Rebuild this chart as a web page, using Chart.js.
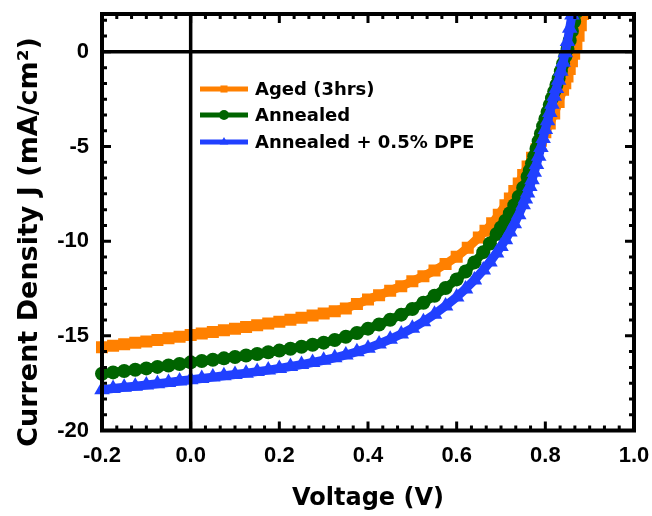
<!DOCTYPE html>
<html>
<head>
<meta charset="utf-8">
<script src="https://cdn.jsdelivr.net/npm/chart.js@4.4.0/dist/chart.umd.min.js"></script>
<style>
    html, body { margin: 0; padding: 0; background: #fff; }
</style>
</head>
<body>
<canvas id="myChart" width="652" height="516"></canvas>
<script>
// 데이터
const seriesNames = ['Aged (3hrs)', 'Annealed', 'Annealed + 0.5% DPE'];

const agedV = [-0.2, -0.175, -0.15, -0.125, -0.1, -0.075, -0.05, -0.025, 0, 0.025, 0.05, 0.075, 0.1, 0.125, 0.15, 0.175,
    0.2, 0.225, 0.25, 0.275, 0.3, 0.325, 0.35, 0.375, 0.4, 0.425, 0.45, 0.475, 0.5, 0.525, 0.55, 0.575, 0.6,
    0.625, 0.65, 0.665, 0.68, 0.695, 0.71, 0.72, 0.73, 0.74, 0.75, 0.76, 0.77, 0.78, 0.79, 0.8, 0.81, 0.82, 0.83,
    0.84, 0.845, 0.85, 0.855, 0.86, 0.865, 0.87, 0.875, 0.88, 0.885];
const agedJ = [-15.60, -15.52, -15.45, -15.37, -15.30, -15.22, -15.13, -15.05, -14.96, -14.88, -14.80, -14.71, -14.62,
    -14.53, -14.44, -14.35, -14.25, -14.15, -14.04, -13.93, -13.82, -13.70, -13.55, -13.32, -13.08, -12.85, -12.62,
    -12.38, -12.12, -11.85, -11.55, -11.20, -10.82,
    -10.35, -9.80, -9.45, -9.05, -8.60, -8.10, -7.75, -7.35, -6.95, -6.50, -6.05, -5.60, -5.15, -4.70, -4.25, -3.78,
    -3.25, -2.65, -2.00, -1.66, -1.30, -0.91, -0.50, -0.10, 0.30, 0.85, 1.40, 2.00];

const annealedV = [-0.2, -0.175, -0.15, -0.125, -0.1, -0.075, -0.05, -0.025, 0, 0.025, 0.05, 0.075, 0.1, 0.125, 0.15, 0.175,
    0.2, 0.225, 0.25, 0.275, 0.3, 0.325, 0.35, 0.375, 0.4, 0.425, 0.45, 0.475, 0.5, 0.525, 0.55, 0.575, 0.6,
    0.62, 0.64, 0.66, 0.675, 0.69, 0.7, 0.71, 0.72, 0.73, 0.74, 0.75, 0.76, 0.765, 0.77, 0.775, 0.78, 0.785, 0.79,
    0.795, 0.8, 0.805, 0.81, 0.815, 0.82, 0.825, 0.83, 0.835, 0.84, 0.845, 0.85, 0.855, 0.86, 0.865, 0.87];
const annealedJ = [-17.00, -16.93, -16.86, -16.79, -16.72, -16.64, -16.57, -16.49, -16.40, -16.33, -16.26, -16.19, -16.12,
    -16.04, -15.96, -15.87, -15.78, -15.68, -15.58, -15.47, -15.36, -15.22, -15.05, -14.85, -14.62, -14.40, -14.15,
    -13.88, -13.58, -13.25, -12.88, -12.47, -12.02,
    -11.60, -11.12, -10.58, -10.12, -9.62, -9.28, -8.92, -8.52, -8.10, -7.65, -7.18, -6.60, -6.27, -5.90, -5.52, -5.12,
    -4.72, -4.32, -3.93, -3.55, -3.17, -2.80, -2.45, -2.10, -1.75, -1.40, -1.02, -0.62, -0.24, 0.15, 0.60, 1.10, 1.60, 2.10];

const dpeV = [-0.2, -0.175, -0.15, -0.125, -0.1, -0.075, -0.05, -0.025, 0, 0.025, 0.05, 0.075, 0.1, 0.125, 0.15, 0.175,
    0.2, 0.225, 0.25, 0.275, 0.3, 0.325, 0.35, 0.375, 0.4, 0.425, 0.45, 0.475, 0.5, 0.525, 0.55, 0.575, 0.6,
    0.62, 0.64, 0.66, 0.675, 0.69, 0.7, 0.71, 0.72, 0.73, 0.74, 0.75, 0.755, 0.76, 0.765, 0.77, 0.775, 0.78, 0.785,
    0.79, 0.795, 0.8, 0.805, 0.81, 0.815, 0.82, 0.825, 0.83, 0.835, 0.84, 0.845, 0.85, 0.855, 0.86];
const dpeJ = [-17.85, -17.78, -17.72, -17.66, -17.60, -17.53, -17.46, -17.39, -17.32, -17.25, -17.18, -17.11, -17.04,
    -16.97, -16.89, -16.81, -16.72, -16.62, -16.52, -16.41, -16.29, -16.16, -16.01, -15.84, -15.65, -15.43, -15.18,
    -14.90, -14.60, -14.25, -13.86, -13.42, -12.95,
    -12.52, -12.05, -11.52, -11.10, -10.62, -10.28, -9.92, -9.52, -9.08, -8.60, -8.07, -7.77, -7.45, -7.11, -6.75,
    -6.36, -5.95, -5.51, -5.05, -4.58, -4.10, -3.64, -3.20, -2.77, -2.35, -1.93, -1.50, -1.03, -0.55, -0.05, 0.55,
    1.25, 1.95];

// 눈금 라벨
const xTicks = [-0.2, 0.0, 0.2, 0.4, 0.6, 0.8, 1.0];
const yTicks = [-20, -15, -10, -5, 0];

const colors = ['#FF8000', '#006400', '#2040FF'];
const styles = ['rect', 'circle', 'triangle'];
const radii = [8.5, 7, 9];

function pts(xs, ys) {
    return xs.map((v, i) => ({ x: v, y: ys[i] }));
}

const tickFont = { family: "'Liberation Sans', Arial, sans-serif", size: 22, weight: 'bold' };
const xTitleFont = "bold 24px 'DejaVu Sans', sans-serif";
const yTitleFont = "bold 27px 'DejaVu Sans', sans-serif";
const legendFont = "bold 18px 'DejaVu Sans', sans-serif";

function noPad(s) {
    s.paddingTop = 0; s.paddingBottom = 0; s.paddingLeft = 0; s.paddingRight = 0;
}

// 테두리, 눈금, 0선, 범례, 축 제목
const framePlugin = {
    id: 'frame',
    afterDatasetsDraw(chart) {
        const ctx = chart.ctx;
        const a = chart.chartArea;
        const xs = chart.scales.x, ys = chart.scales.y;
        ctx.save();
        ctx.strokeStyle = '#000';

        // 0 lines
        ctx.lineWidth = 3.5;
        ctx.beginPath();
        ctx.moveTo(a.left, ys.getPixelForValue(0));
        ctx.lineTo(a.right, ys.getPixelForValue(0));
        ctx.moveTo(xs.getPixelForValue(0), a.top);
        ctx.lineTo(xs.getPixelForValue(0), a.bottom);
        ctx.stroke();

        // ticks (inward, all sides)
        ctx.lineWidth = 3;
        ctx.beginPath();
        for (let k = 0; k <= 36; k++) {
            const v = -0.2 + k * 0.2 / 6;
            const px = xs.getPixelForValue(v);
            const len = (k % 6 === 0) ? 9 : 5;
            ctx.moveTo(px, a.bottom); ctx.lineTo(px, a.bottom - len);
            ctx.moveTo(px, a.top); ctx.lineTo(px, a.top + len);
        }
        for (let k = 0; k <= 26; k++) {
            const v = -20 + k * 5 / 6;
            if (v > 2) break;
            const py = ys.getPixelForValue(v);
            const len = (k % 6 === 0) ? 9 : 5;
            ctx.moveTo(a.left, py); ctx.lineTo(a.left + len, py);
            ctx.moveTo(a.right, py); ctx.lineTo(a.right - len, py);
        }
        ctx.stroke();

        // frame
        ctx.lineWidth = 4;
        ctx.strokeRect(a.left, a.top, a.right - a.left, a.bottom - a.top);

        // legend
        const rows = [89, 115, 142];
        ctx.font = legendFont;
        ctx.textBaseline = 'middle';
        ctx.textAlign = 'left';
        seriesNames.forEach((name, i) => {
            ctx.strokeStyle = colors[i];
            ctx.fillStyle = colors[i];
            ctx.lineWidth = 5;
            ctx.beginPath();
            ctx.moveTo(200, rows[i]);
            ctx.lineTo(248, rows[i]);
            ctx.stroke();
            Chart.helpers.drawPoint(ctx, { pointStyle: styles[i], radius: 5, rotation: 0, borderWidth: 0 }, 224, rows[i]);
            ctx.fillStyle = '#000';
            ctx.fillText(name, 255, rows[i] + 1);
        });

        // axis titles
        ctx.fillStyle = '#000';
        ctx.textAlign = 'center';
        ctx.textBaseline = 'middle';
        ctx.font = xTitleFont;
        ctx.fillText('Voltage (V)', (a.left + a.right) / 2, 499);
        ctx.save();
        ctx.translate(30, 242);
        ctx.rotate(-Math.PI / 2);
        ctx.font = yTitleFont;
        ctx.fillText('Current Density J (mA/cm\u00B2)', 0, 0);
        ctx.restore();

        ctx.restore();
    }
};

const data = {
    datasets: [
        { label: seriesNames[0], data: pts(agedV, agedJ), order: 3 },
        { label: seriesNames[1], data: pts(annealedV, annealedJ), order: 2 },
        { label: seriesNames[2], data: pts(dpeV, dpeJ), order: 1 }
    ].map((d, i) => Object.assign(d, {
        borderColor: colors[i],
        backgroundColor: colors[i],
        pointBackgroundColor: colors[i],
        pointBorderColor: colors[i],
        pointBorderWidth: 0,
        pointStyle: styles[i],
        pointRadius: radii[i],
        borderWidth: 9,
        borderJoinStyle: 'round',
        showLine: true,
        tension: 0,
        clip: { left: 10, top: 0, right: 0, bottom: 0 }
    }))
};

const config = {
    type: 'scatter',
    data: data,
    options: {
        responsive: false,
        animation: false,
        devicePixelRatio: 1,
        layout: { padding: { left: 0, top: 14, right: 18, bottom: 0 } },
        plugins: { legend: { display: false }, tooltip: { enabled: false } },
        scales: {
            x: {
                type: 'linear',
                min: -0.2,
                max: 1.0,
                grid: { display: false, drawTicks: false },
                border: { display: false },
                afterFit: (s) => { s.height = 85.5; noPad(s); },
                afterBuildTicks: (s) => { s.ticks = xTicks.map(v => ({ value: v })); },
                ticks: {
                    color: '#000',
                    font: tickFont,
                    padding: 12,
                    maxRotation: 0,
                    callback: (v) => (Math.abs(v) < 1e-9 ? 0 : v).toFixed(1)
                }
            },
            y: {
                type: 'linear',
                min: -20,
                max: 2,
                grid: { display: false, drawTicks: false },
                border: { display: false },
                afterFit: (s) => { s.width = 102; noPad(s); },
                afterBuildTicks: (s) => { s.ticks = yTicks.map(v => ({ value: v })); },
                ticks: {
                    color: '#000',
                    font: tickFont,
                    padding: 13,
                    callback: (v) => String(v)
                }
            }
        }
    },
    plugins: [framePlugin]
};

const myChart = new Chart(document.getElementById('myChart'), config);
</script>
</body>
</html>
